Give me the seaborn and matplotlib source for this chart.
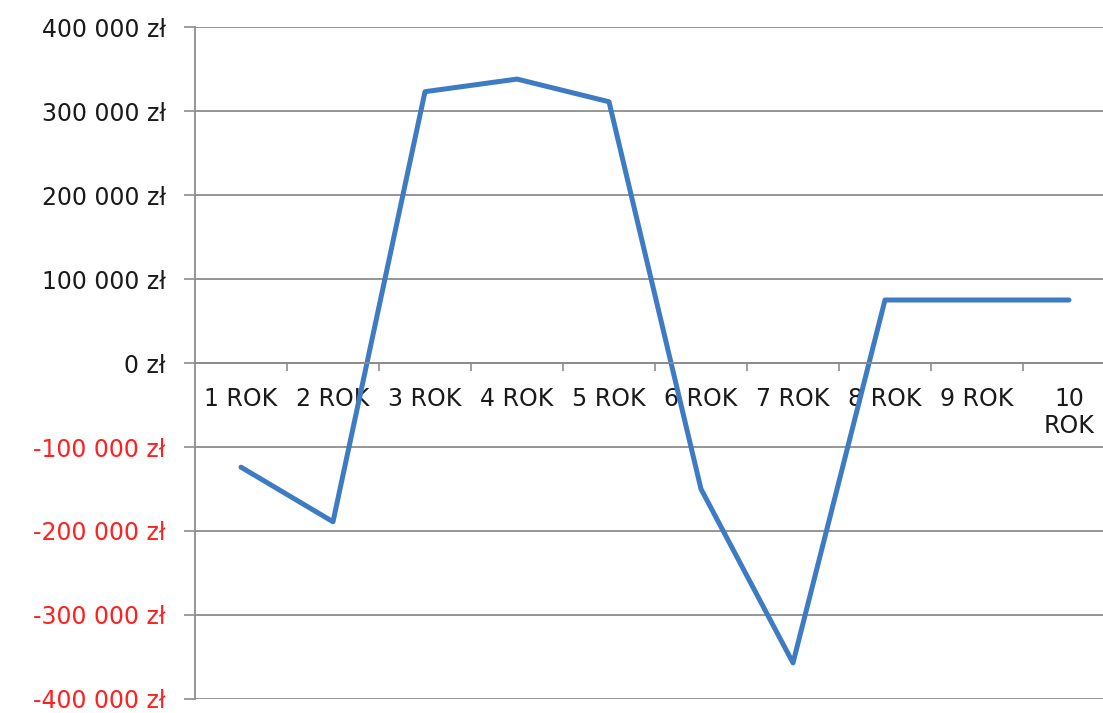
"""
Wykres przepływów pieniężnych w kolejnych latach (styl Excel).
"""

import pandas as pd
import numpy as np
import matplotlib
matplotlib.use('Agg')
import matplotlib.pyplot as plt
from matplotlib.ticker import FixedLocator, FuncFormatter
import seaborn as sns

# Dane
lata = ['1 ROK', '2 ROK', '3 ROK', '4 ROK', '5 ROK',
        '6 ROK', '7 ROK', '8 ROK', '9 ROK', '10 ROK']
wartosci = [-124000, -189000, 323000, 338000, 311000,
            -150000, -357000, 75000, 75000, 75000]
y_ticks = [-400000, -300000, -200000, -100000, 0,
           100000, 200000, 300000, 400000]

BLUE = '#3D7BC2'
GRID = '#8C8C8C'

sns.set_theme(style='white')
plt.rcParams['font.family'] = ['DejaVu Sans']

df = pd.DataFrame({'rok': lata, 'wartosc': wartosci})

fig = plt.figure(figsize=(11.03, 7.13), dpi=100)
ax = fig.add_axes([195 / 1103, 14 / 713, 920 / 1103, 672 / 713])

sns.lineplot(data=df, x='rok', y='wartosc', ax=ax, color=BLUE,
             linewidth=3.6, sort=False)

ax.set_xlim(-0.5, 9.5)
ax.set_ylim(-400000, 400000)

# Oś Y
ax.yaxis.set_major_locator(FixedLocator(y_ticks))
ax.yaxis.set_major_formatter(FuncFormatter(
    lambda v, _: f"{v:,.0f}".replace(',', ' ') + ' zł'))
ax.tick_params(axis='y', direction='out', length=8, width=1.2,
               color=GRID, pad=13, labelsize=17, left=True)
for lbl, v in zip(ax.get_yticklabels(), y_ticks):
    lbl.set_color('#FF2020' if v < 0 else '#1A1A1A')
ax.yaxis.grid(True, color=GRID, linewidth=1.3)
ax.xaxis.grid(False)

# Oś X na poziomie zera
ax.spines['bottom'].set_position(('data', 0))
ax.spines['top'].set_visible(False)
ax.spines['right'].set_visible(False)
for s in ['bottom', 'left']:
    ax.spines[s].set_color(GRID)
    ax.spines[s].set_linewidth(1.3)

ax.set_xticks(range(len(lata)))
ax.set_xticklabels([l.replace(' ', '\n') if len(l) > 5 else l for l in lata],
                   fontsize=17, color='#1A1A1A', va='top')
ax.xaxis.set_minor_locator(FixedLocator(np.arange(0.5, len(lata) - 1, 1.0)))
ax.tick_params(axis='x', which='major', length=0, pad=17)
ax.tick_params(axis='x', which='minor', direction='out', length=6,
               width=1.2, color=GRID, bottom=True)

ax.set_xlabel('')
ax.set_ylabel('')

plt.savefig('out.png', dpi=100)
